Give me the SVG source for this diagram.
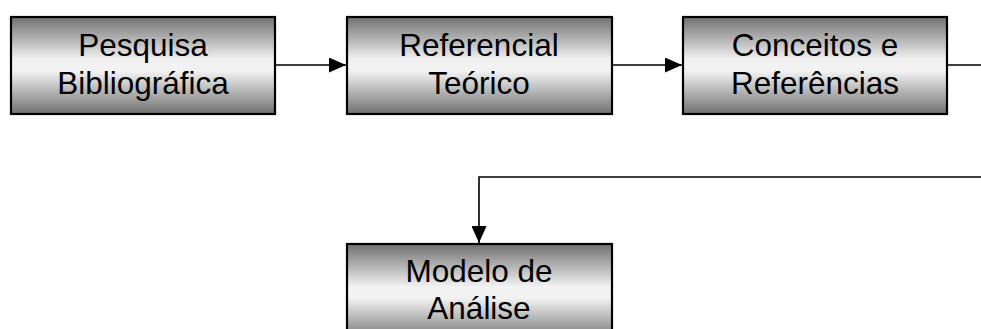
<svg xmlns="http://www.w3.org/2000/svg" width="981" height="329" viewBox="0 0 981 329">
  <style>
    .box { fill: url(#shade); stroke: #000; stroke-width: 2.2; }
    .label { font-family: "Liberation Sans", Arial, sans-serif; font-size: 31.5px; fill: #000; text-anchor: middle; }
    .wire { fill: none; stroke: #000; stroke-width: 1.6; }
  </style>
  <defs>
    <linearGradient id="shade" x1="0" y1="0" x2="0" y2="1">
      <stop offset="0" stop-color="#707070"/>
      <stop offset="0.44" stop-color="#f2f2f2"/>
      <stop offset="0.56" stop-color="#f2f2f2"/>
      <stop offset="1" stop-color="#707070"/>
    </linearGradient>
    <marker id="head" viewBox="0 0 17 15" refX="17" refY="7.5" markerWidth="17" markerHeight="15" markerUnits="userSpaceOnUse" orient="auto">
      <path d="M0,0 L17,7.5 L0,15 Z" fill="#000"/>
    </marker>
  </defs>

  <g id="connectors">
    <path class="wire" d="M275,65 H346" marker-end="url(#head)"/>
    <path class="wire" d="M612,65 H682" marker-end="url(#head)"/>
    <path class="wire" d="M947,65 H981"/>
    <path class="wire" d="M981,177 H479 V243" marker-end="url(#head)"/>
  </g>

  <g id="pesquisa">
    <rect class="box" x="11" y="17" width="264" height="97"/>
    <text class="label" x="143" y="55.5">Pesquisa</text>
    <text class="label" x="143" y="93.5">Bibliográfica</text>
  </g>

  <g id="referencial">
    <rect class="box" x="347" y="17" width="265" height="97"/>
    <text class="label" x="479" y="55.5">Referencial</text>
    <text class="label" x="479" y="93.5">Teórico</text>
  </g>

  <g id="conceitos">
    <rect class="box" x="683" y="17" width="264" height="97"/>
    <text class="label" x="815" y="55.5">Conceitos e</text>
    <text class="label" x="815" y="93.5">Referências</text>
  </g>

  <g id="modelo">
    <rect class="box" x="347" y="244" width="265" height="97"/>
    <text class="label" x="479" y="281.5">Modelo de</text>
    <text class="label" x="479" y="318.5">Análise</text>
  </g>
</svg>
